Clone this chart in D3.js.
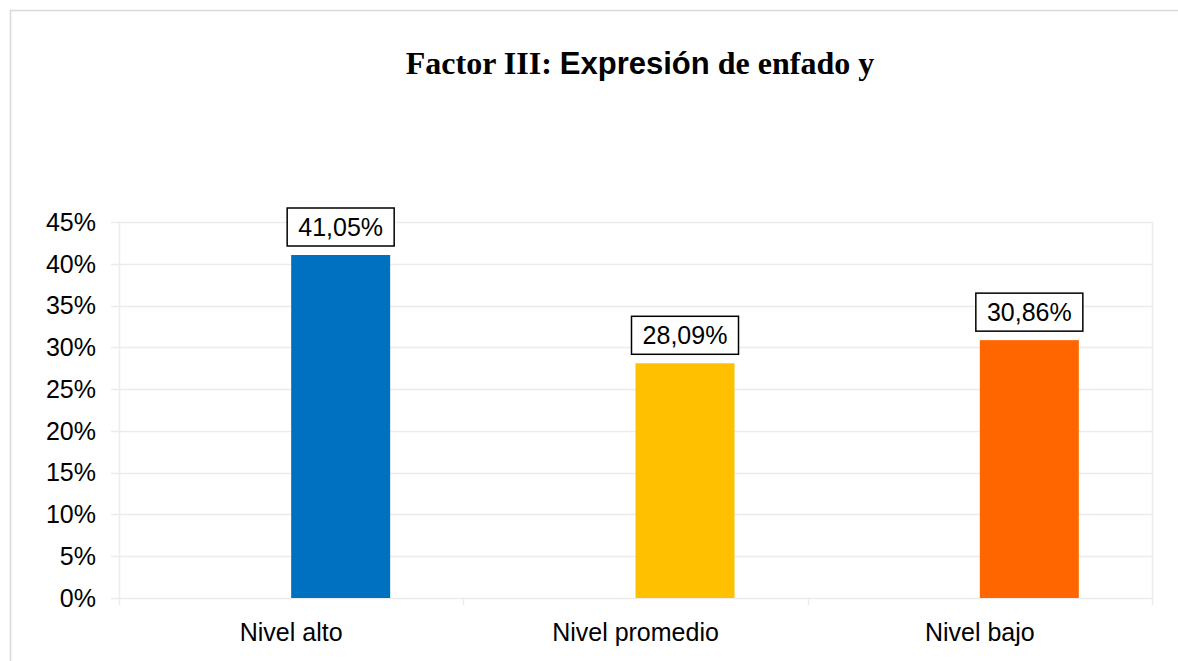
<!DOCTYPE html>
<html>
<head>
<meta charset="utf-8">
<script src="https://cdn.jsdelivr.net/npm/d3@7"></script>
<style>
  html, body { margin: 0; padding: 0; background: #fff; }
  svg { display: block; }
</style>
</head>
<body>
<svg id="chart" width="1178" height="661"></svg>
<script>
const categories = ["Nivel alto", "Nivel promedio", "Nivel bajo"];
const values = [41.05, 28.09, 30.86];
const labels = ["41,05%", "28,09%", "30,86%"];
const colors = ["#0070C0", "#FFC000", "#FF6600"];
const yTicks = [0, 5, 10, 15, 20, 25, 30, 35, 40, 45];
const seriesSlots = ["empty", "value"];

const svg = d3.select("#chart");
const W = 1178, H = 661;
const m = { left: 119, right: 1152, top: 222, bottom: 598 };
const FS = 25;
const SANS = "Liberation Sans, Arial, sans-serif";
const SERIF = "Liberation Serif, Times New Roman, serif";

svg.append("rect").attr("x", 10.5).attr("y", 10.5).attr("width", W).attr("height", H)
  .attr("fill", "#fff").attr("stroke", "#d9d9d9").attr("stroke-width", 1.5);

const x = d3.scaleBand().domain(categories).range([m.left, m.right]).padding(0);
const bw = x.bandwidth();
const gap = bw - 2 * 99;
const xs = d3.scaleBand().domain(seriesSlots).range([gap / 2, bw - gap / 2]).padding(0);
const y = d3.scaleLinear().domain([0, 45]).range([m.bottom, m.top]);

// horizontal gridlines
svg.append("g").selectAll("line").data(yTicks).join("line")
  .attr("x1", 111).attr("x2", m.right)
  .attr("y1", d => Math.round(y(d)) + 0.5).attr("y2", d => Math.round(y(d)) + 0.5)
  .attr("stroke", "#ececec").attr("stroke-width", 1.5);

// plot edges (full height) and category tick marks (below axis)
const bounds = categories.map(c => x(c)).concat([m.right]);
svg.append("g").selectAll("line").data(bounds).join("line")
  .attr("x1", d => Math.round(d) + 0.5).attr("x2", d => Math.round(d) + 0.5)
  .attr("y1", (d, i) => (i === 0 || i === bounds.length - 1) ? m.top : m.bottom)
  .attr("y2", 605)
  .attr("stroke", "#ececec").attr("stroke-width", 1.5);

// y axis labels
svg.append("g").selectAll("text").data(yTicks).join("text")
  .attr("x", 96).attr("y", d => y(d)).attr("dy", "0.35em")
  .attr("text-anchor", "end")
  .attr("font-family", SANS).attr("font-size", FS)
  .attr("fill", "#000").text(d => d + "%");

// bars
const data = categories.map((c, i) => ({ c, v: values[i], label: labels[i], color: colors[i] }));
svg.append("g").selectAll("rect").data(data).join("rect")
  .attr("x", d => x(d.c) + xs("value"))
  .attr("width", xs.bandwidth())
  .attr("y", d => y(d.v))
  .attr("height", d => y(0) - y(d.v))
  .attr("fill", d => d.color);

// data labels with boxes
const lg = svg.append("g").selectAll("g").data(data).join("g")
  .attr("transform", d => `translate(${x(d.c) + xs("value") + xs.bandwidth() / 2},${y(d.v) - 9})`);
lg.append("rect").attr("x", -53.5).attr("y", -38).attr("width", 107).attr("height", 38)
  .attr("fill", "#fff").attr("stroke", "#000").attr("stroke-width", 1.5);
lg.append("text").attr("x", 0).attr("y", -19).attr("dy", "0.35em")
  .attr("text-anchor", "middle")
  .attr("font-family", SANS).attr("font-size", FS)
  .attr("fill", "#000").text(d => d.label);

// category labels
svg.append("g").selectAll("text").data(categories).join("text")
  .attr("x", d => x(d) + bw / 2).attr("y", 632).attr("dy", "0.35em")
  .attr("text-anchor", "middle")
  .attr("font-family", SANS).attr("font-size", FS)
  .attr("fill", "#000").text(d => d);

// title
const t = svg.append("text").attr("x", 640).attr("y", 74).attr("text-anchor", "middle")
  .attr("font-weight", "bold").attr("fill", "#000");
t.append("tspan").attr("font-family", SERIF).attr("font-size", 32).text("Factor III: ");
t.append("tspan").attr("font-family", SANS).attr("font-size", 31).text("Expresión");
t.append("tspan").attr("font-family", SERIF).attr("font-size", 32).text(" de enfado y");
</script>
</body>
</html>
